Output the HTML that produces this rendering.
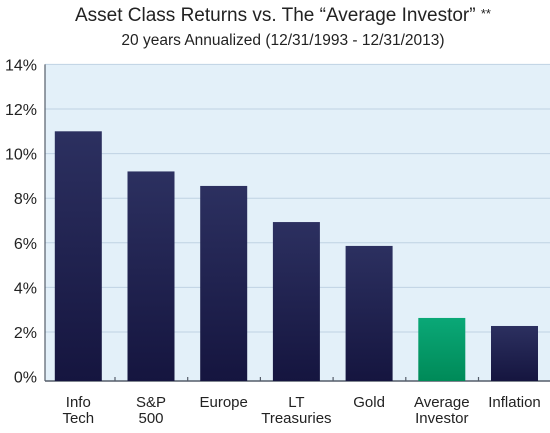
<!DOCTYPE html>
<html><head><meta charset="utf-8"><style>
body{margin:0;background:#fff;width:550px;height:428px;overflow:hidden;font-family:"Liberation Sans",sans-serif}
</style></head><body>
<svg id="chart" width="550" height="428" xmlns="http://www.w3.org/2000/svg">
<defs>
<linearGradient id="navy" x1="0" y1="0" x2="0" y2="1"><stop offset="0" stop-color="#2c3060"/><stop offset="1" stop-color="#15153f"/></linearGradient>
<linearGradient id="green" x1="0" y1="0" x2="0" y2="1"><stop offset="0" stop-color="#0aa877"/><stop offset="1" stop-color="#008a58"/></linearGradient>
</defs>
<text x="283" y="21" text-anchor="middle" font-size="19" fill="#222">Asset Class Returns vs. The “Average Investor” <tspan font-size="13" dy="-3">**</tspan></text>
<text x="283" y="45" text-anchor="middle" font-size="15.5" fill="#222">20 years Annualized (12/31/1993 - 12/31/2013)</text>
<rect x="45" y="64.4" width="505" height="316.6" fill="#e3f0f9"/>
<g id="grid"></g><g id="bars"></g><g id="xlabels"></g><g id="ylabels"></g>
</svg>
<script>
const categories=[["Info","Tech"],["S&P","500"],["Europe"],["LT","Treasuries"],["Gold"],["Average","Investor"],["Inflation"]];
const values=[11.0,9.2,8.55,6.93,5.86,2.63,2.27];
const highlight=[false,false,false,false,false,true,false];
const yTicks=[0,2,4,6,8,10,12,14];
const NS="http://www.w3.org/2000/svg";
const y0=376.6,perPct=22.3,left=45,right=550,axisY=381;
const y=v=>y0-v*perPct;
const step=72.7,start=42.3;
const x=i=>start+i*step;
function mk(t,a,p){const e=document.createElementNS(NS,t);for(const k in a)e.setAttribute(k,a[k]);p.appendChild(e);return e;}
const grid=document.getElementById('grid'),bars=document.getElementById('bars'),xl=document.getElementById('xlabels'),yl=document.getElementById('ylabels');
yTicks.forEach(v=>{
 if(v>0){const g=mk('line',{x1:left,x2:right,y1:y(v),y2:y(v),stroke:'#bfd2e3','stroke-width':1},grid);
 
 }
 const t=mk('text',{x:37,y:y(v)+6,'text-anchor':'end','font-size':16,fill:'#222'},yl);
 t.textContent=v+'%';
 
 
});
const ax=mk('line',{x1:left,x2:left,y1:64.4,y2:axisY,stroke:'#555d6a','stroke-width':1.2},grid);


values.forEach((v,i)=>{
 const r=mk('rect',{x:x(i)+12.5,y:y(v),width:47,height:axisY-y(v),fill:highlight[i]?'url(#green)':'url(#navy)'},bars);
 
 
 if(i>0){const tk=mk('line',{x1:x(i),x2:x(i),y1:axisY-4,y2:axisY,stroke:'#555d6a','stroke-width':1.2},grid);
 
 }
 const t=mk('text',{x:x(i)+36,y:407,'text-anchor':'middle','font-size':15,fill:'#222'},xl);
 
 
 categories[i].forEach((ln,j)=>{const s=mk('tspan',{x:x(i)+36,dy:j?16:0},t);s.textContent=ln;});
});
const xa=mk('line',{x1:left,x2:right,y1:axisY,y2:axisY,stroke:'#555d6a','stroke-width':1.5},grid);


</script>
</body></html>
